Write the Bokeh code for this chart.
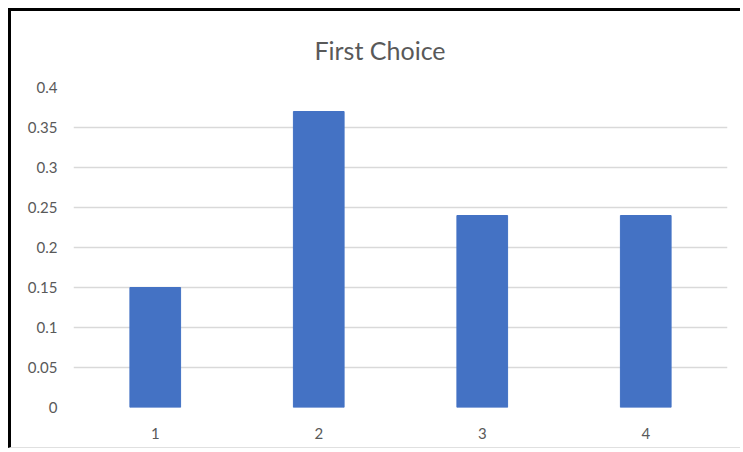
from bokeh.plotting import figure
from bokeh.models import Range1d, FixedTicker, FactorRange
from bokeh.embed import file_html
from bokeh.resources import INLINE

categories = ["1", "2", "3", "4"]
values = [0.15, 0.37, 0.24, 0.24]
y_ticks = [0, 0.05, 0.1, 0.15, 0.2, 0.25, 0.3, 0.35, 0.4]
y_tick_labels = ["0", "0.05", "0.1", "0.15", "0.2", "0.25", "0.3", "0.35", "0.4"]
title_text = "First Choice"

FONT = "Lato"
GRAY = "#595959"

p = figure(x_range=FactorRange(*categories, range_padding=0), y_range=Range1d(0, 0.4),
           width=732, height=440, output_backend="svg", toolbar_location=None,
           min_border_left=62, min_border_right=16, min_border_top=76, min_border_bottom=44,
           title=title_text)
p.styles = {"margin-left": "8px", "margin-top": "8px",
            "border-left": "3px solid #000000", "border-top": "3px solid #000000",
            "border-bottom": "1px solid #e0e0e0"}

p.title.align = "left"
p.title.vertical_align = "middle"
p.title.offset = 241
p.title.standoff = 44
p.title.text_font = FONT
p.title.text_font_size = "25px"
p.title.text_font_style = "normal"
p.title.text_color = GRAY

p.vbar(x=categories, top=values, width=0.31, fill_color="#4472C4", line_color="#4472C4")

p.outline_line_color = None
p.xgrid.grid_line_color = None
p.ygrid.grid_line_color = "#d9d9d9"
p.ygrid.grid_line_width = 1.5
p.ygrid.ticker = FixedTicker(ticks=y_ticks)

p.yaxis.ticker = FixedTicker(ticks=y_ticks)
p.yaxis.major_label_overrides = {t: l for t, l in zip(y_ticks, y_tick_labels)}
for ax in (p.xaxis[0], p.yaxis[0]):
    ax.axis_line_color = None
    ax.major_tick_line_color = None
    ax.minor_tick_line_color = None
    ax.major_label_text_font = FONT
    ax.major_label_text_font_size = "15px"
    ax.major_label_text_color = GRAY
p.yaxis.major_label_standoff = 10
p.xaxis.major_label_standoff = 14

open("out.html", "w").write(file_html(p, INLINE))
